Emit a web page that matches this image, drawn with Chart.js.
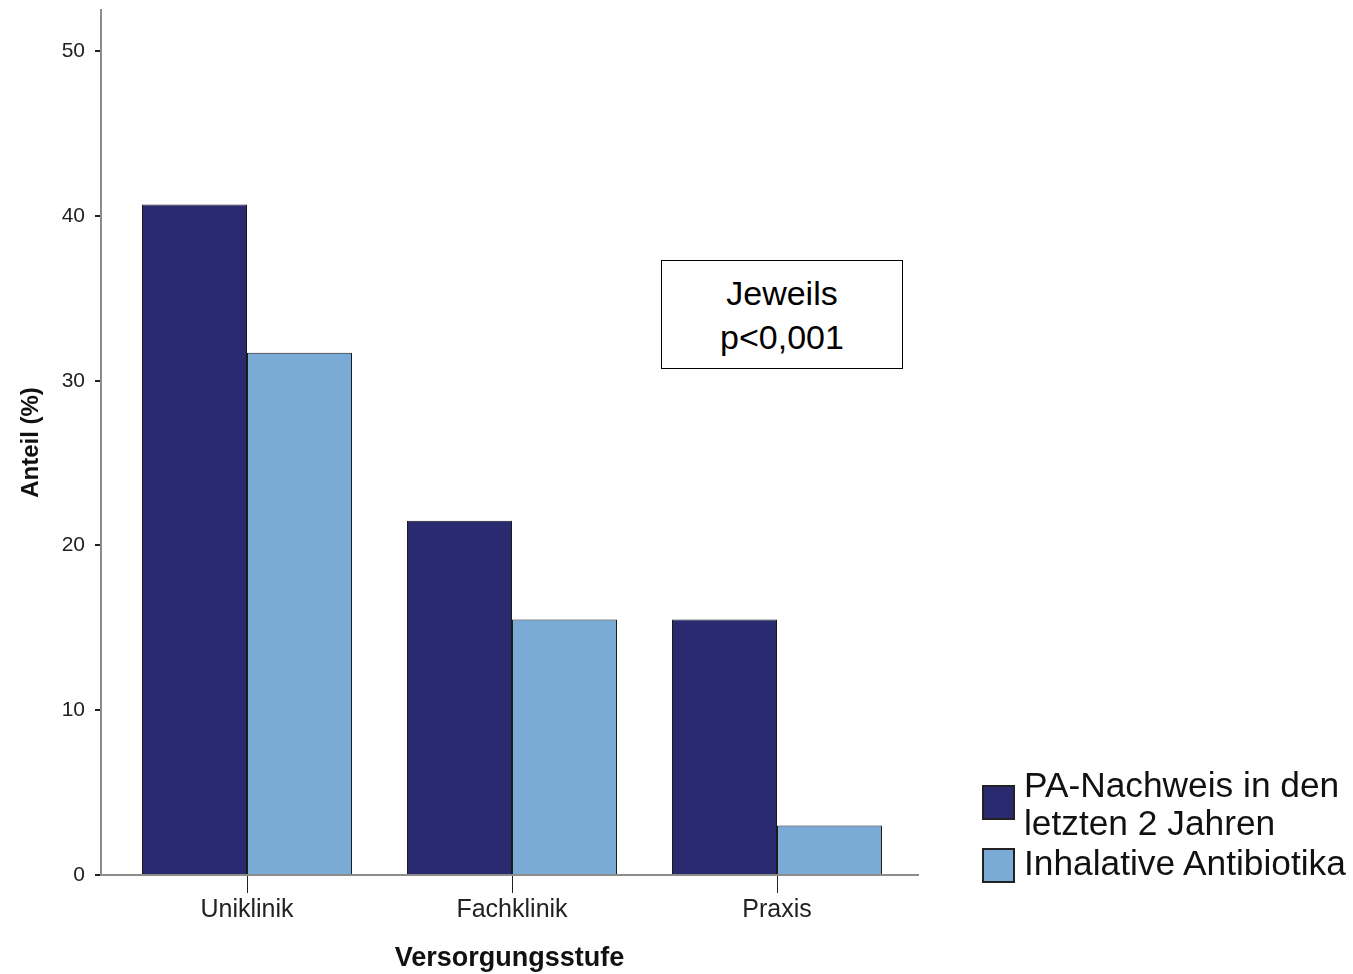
<!DOCTYPE html>
<html>
<head>
<meta charset="utf-8">
<script src="https://cdn.jsdelivr.net/npm/chart.js@4/dist/chart.umd.min.js"></script>
<style>
    body { margin: 0; background: #fff; }
    #wrap { position: relative; width: 1353px; height: 974px; }
    #hinweis {
        position: absolute; left: 661px; top: 260px; width: 242px; height: 109px;
        border: 1px solid #000; background: #fff;
        font-family: 'Liberation Sans', Arial, sans-serif; font-size: 34px;
        line-height: 44px; text-align: center; box-sizing: border-box; padding-top: 10px;
    }
    #legende {
        position: absolute; left: 982px; top: 766px;
        font-family: 'Liberation Sans', Arial, sans-serif; font-size: 35.3px; line-height: 38px; color: #111;
    }
    .eintrag { position: relative; padding-left: 42px; }
    .kasten { position: absolute; left: 0; width: 33px; height: 35px; border: 2px solid #222; box-sizing: border-box; }
</style>
</head>
<body>
<div id="wrap">
    <canvas id="grafik"></canvas>
    <div id="hinweis">Jeweils<br>p&lt;0,001</div>
    <div id="legende"></div>
</div>
<script>
// Daten
const kategorien = ['Uniklinik', 'Fachklinik', 'Praxis'];
const paNachweis = [40.7, 21.5, 15.5];
const inhalativeAntibiotika = [31.7, 15.5, 3.0];
const yTicks = [0, 10, 20, 30, 40, 50];

const serien = [
    { label: ['PA-Nachweis in den', 'letzten 2 Jahren'], werte: paNachweis, farbe: '#292a6f' },
    { label: ['Inhalative Antibiotika'], werte: inhalativeAntibiotika, farbe: '#7aaad6' }
];

const schrift = "'Liberation Sans', Arial, sans-serif";

new Chart(document.getElementById('grafik'), {
    type: 'bar',
    data: {
        datasets: serien.map(function (s) {
            return {
                label: s.label.join(' '),
                data: kategorien.map(function (k, i) { return { x: i, y: s.werte[i] }; }),
                backgroundColor: s.farbe,
                borderColor: '#1a1a1a',
                borderWidth: 1,
                categoryPercentage: 0.7925,
                barPercentage: 1
            };
        })
    },
    options: {
        maintainAspectRatio: false,
        responsive: true,
        animation: false,
        layout: { autoPadding: false, padding: { top: 10, right: 435, left: 0, bottom: 0 } },
        plugins: { legend: { display: false }, tooltip: { enabled: false } },
        scales: {
            x: {
                type: 'linear',
                offset: false,
                min: -0.551,
                max: 2.532,
                afterBuildTicks: function (scale) {
                    scale.ticks = kategorien.map(function (k, i) { return { value: i }; });
                },
                afterFit: function (scale) {
                    scale.height = 99;
                    scale.paddingLeft = 0;
                    scale.paddingRight = 0;
                },
                grid: { offset: false, drawOnChartArea: false, tickLength: 18, color: '#222', lineWidth: 1 },
                border: { color: '#8c8c8c', width: 2 },
                ticks: {
                    maxRotation: 0,
                    autoSkip: false,
                    padding: 2,
                    color: '#222',
                    font: { family: schrift, size: 25 },
                    callback: function (v) { return kategorien[v]; }
                },
                title: {
                    display: true,
                    text: 'Versorgungsstufe',
                    color: '#111',
                    font: { family: schrift, size: 27, weight: 'bold', lineHeight: 1.15 },
                    padding: { top: 0, bottom: 0 }
                }
            },
            y: {
                min: 0,
                max: 52.5,
                afterBuildTicks: function (scale) {
                    scale.ticks = yTicks.map(function (v) { return { value: v }; });
                },
                afterFit: function (scale) {
                    scale.width = 101;
                    scale.paddingTop = 0;
                    scale.paddingBottom = 0;
                },
                grid: { drawOnChartArea: false, tickLength: 6, color: '#222', lineWidth: 2 },
                border: { color: '#8c8c8c', width: 2 },
                ticks: {
                    padding: 10,
                    color: '#222',
                    font: { family: schrift, size: 21 }
                },
                title: {
                    display: true,
                    text: 'Anteil (%)',
                    color: '#111',
                    font: { family: schrift, size: 24, weight: 'bold' },
                    padding: { top: 17, bottom: 0 }
                }
            }
        }
    }
});

// Legende
const legende = document.getElementById('legende');
serien.forEach(function (s, i) {
    var div = document.createElement('div');
    div.className = 'eintrag';
    div.style.marginTop = i === 0 ? '0px' : '2px';
    var kasten = document.createElement('span');
    kasten.className = 'kasten';
    kasten.style.background = s.farbe;
    kasten.style.top = i === 0 ? '19px' : '4px';
    div.appendChild(kasten);
    div.innerHTML += s.label.join('<br>');
    legende.appendChild(div);
});
</script>
</body>
</html>
